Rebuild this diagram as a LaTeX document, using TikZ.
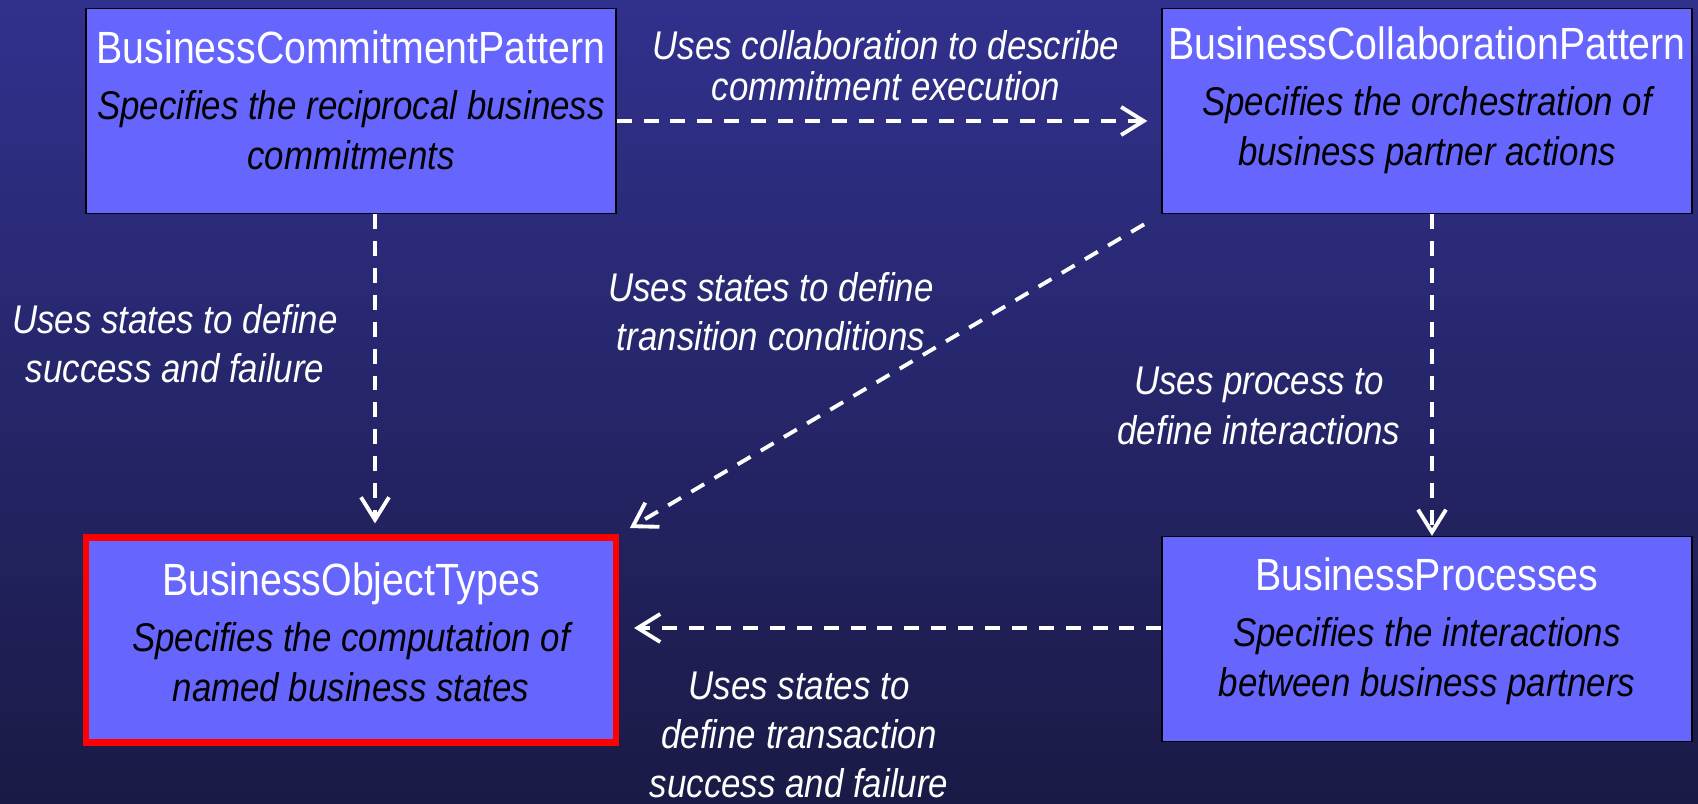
\documentclass[tikz,border=0pt]{standalone}
\usepackage{fontspec}
\setmainfont[FakeStretch=0.87]{Liberation Sans}
\usepackage{tikz}
\usetikzlibrary{arrows.meta}

\definecolor{bgtop}{RGB}{49,49,142}
\definecolor{bgbot}{RGB}{26,26,70}
\definecolor{boxfill}{RGB}{102,102,255}

\newcommand{\ptitle}[1]{{\color{white}\upshape\fontsize{25.7}{28}\selectfont #1}}

\begin{document}
\begin{tikzpicture}
[pattern/.style={rectangle,draw=black,fill=boxfill,thick,inner sep=0pt,
                 minimum width=10.6cm,minimum height=4.1cm},
 keybox/.style={pattern,draw=red,line width=3.5pt},
 boxtext/.style={align=center,inner sep=0pt,font=\fontsize{22.8}{28.4}\selectfont\itshape},
 uses/.style={draw=white,line width=2.2pt,dash pattern=on 8.5pt off 6.8pt,
              -{Straight Barb[length=4.5mm,width=5.6mm]}},
 note/.style={text=white,align=center,font=\fontsize{22.8}{28}\selectfont\itshape}]
\path[use as bounding box] (0,0) rectangle (33.96,16.08);
\shade[top color=bgtop,bottom color=bgbot] (0,0) rectangle (33.96,16.08);
%
\node[pattern] (commit) at ( 7.02,13.86) {};
\node[pattern] (collab) at (28.54,13.86) {};
\node[keybox]  (objtyp) at ( 7.02, 3.28) {};
\node[pattern] (procs)  at (28.54, 3.30) {};
\node[boxtext] (commitxt) at ([yshift=2.2mm]commit) {\ptitle{BusinessCommitmentPattern}\\[3.5pt]
  Specifies the reciprocal business\\ commitments};
\node[boxtext] (collabtxt) at ([yshift=2.2mm]collab) {\ptitle{BusinessCollaborationPattern}\\[3.5pt]
  Specifies the orchestration of\\ business partner actions};
\node[boxtext] (objtyptxt) at ([yshift=1.6mm]objtyp) {\ptitle{BusinessObjectTypes}\\[3.5pt]
  Specifies the computation of\\ named business states};
\node[boxtext] (procstxt) at ([yshift=1.6mm]procs) {\ptitle{BusinessProcesses}\\[3.5pt]
  Specifies the interactions\\ between business partners};
%
\path ([yshift=-2mm]commit.east) edge[uses,shorten >=2.8mm] ([yshift=-2mm]commit.east -| collab.west)
      ([xshift=4.8mm]commit.south) edge[uses,shorten >=2.2mm] ([xshift=4.8mm]commit.south |- objtyp.north)
      (collab.south west) edge[uses,shorten <=4mm,shorten >=2.5mm] (objtyp.north east)
      ([xshift=1mm]collab.south) edge[uses] ([xshift=1mm]collab.south |- procs.north)
      ([yshift=2.2mm]procs.west) edge[uses,shorten >=3mm] ([yshift=2.2mm]procs.west -| objtyp.east);
%
\node[note,font=\fontsize{22.8}{23.3}\selectfont\itshape] (lbcollab) at (17.72,14.76)
  {Uses collaboration to describe\\commitment execution};
\node[note] (lbsuccess) at ( 3.50, 9.21) {Uses states to define\\success and failure};
\node[note] (lbtrans)   at (15.42, 9.84) {Uses states to define\\transition conditions};
\node[note] (lbinter)   at (25.18, 7.96) {Uses process to\\define interactions};
\node[note] (lbtxn)     at (15.98, 1.38) {Uses states to\\define transaction\\success and failure};
\end{tikzpicture}
\end{document}
